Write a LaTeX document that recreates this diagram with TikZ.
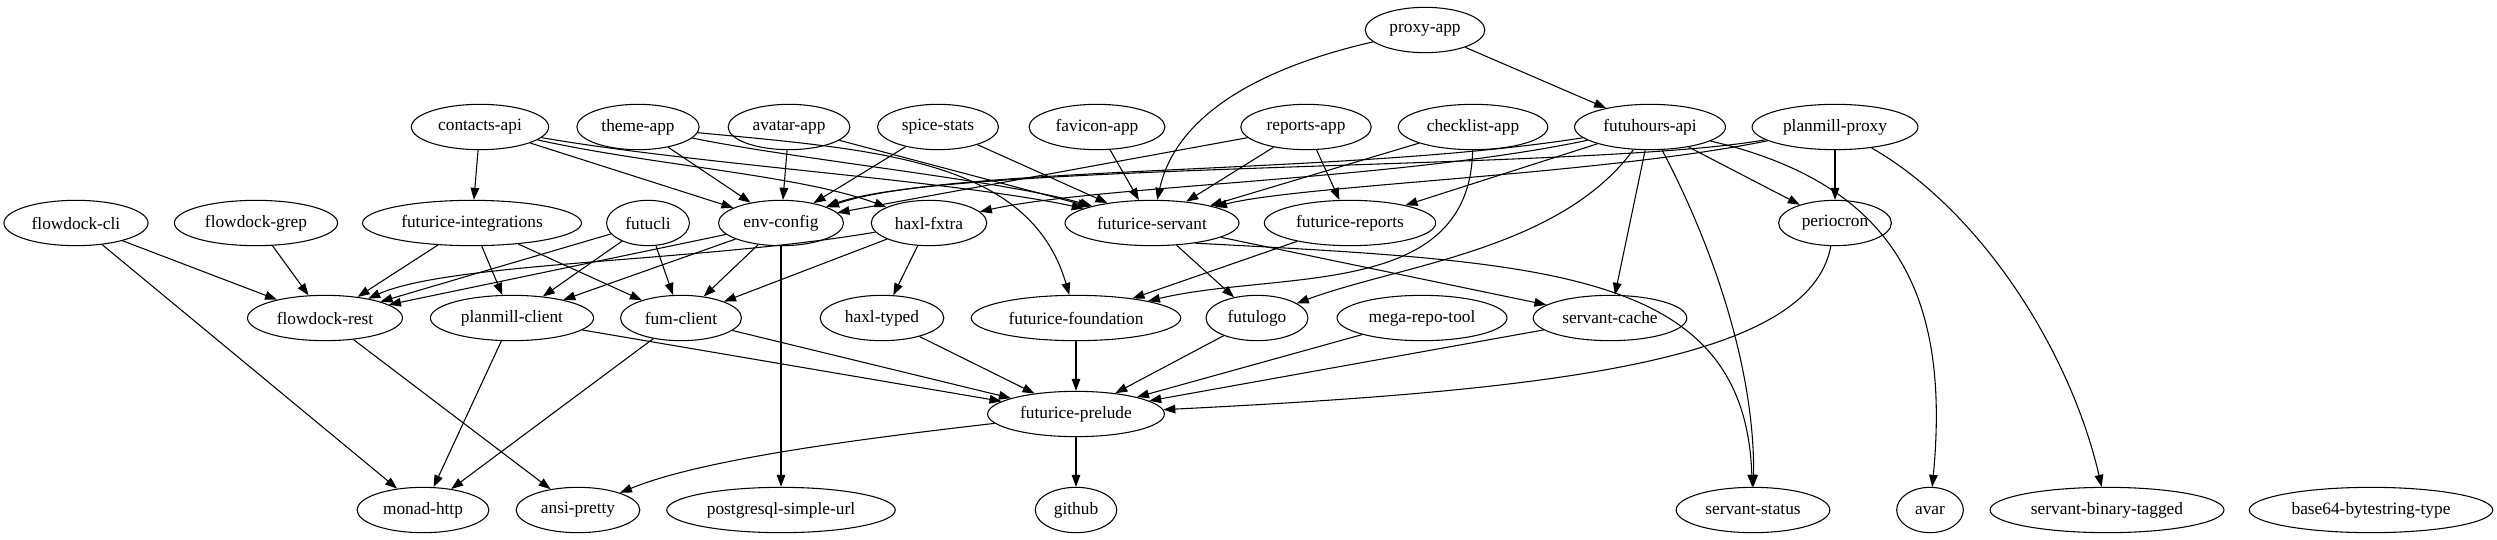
\documentclass[tikz,border=0pt]{standalone}
\usepackage{fontspec}
\setmainfont{Liberation Serif}
\usetikzlibrary{arrows.meta, shapes.geometric}

\begin{document}
\begin{tikzpicture}[
    x=0.75pt, y=-0.75pt,
    >={Triangle[length=9pt, width=6.5pt]},
    font=\fontsize{13}{15}\selectfont,
    pkg/.style={
        draw, ellipse, line width=0.8pt, inner xsep=5pt, inner ysep=0pt,
        minimum height=34pt, minimum width=50pt
    },
    arrow/.style={draw, line width=0.8pt, ->}
]
\useasboundingbox (0,0) rectangle (2497,539);

% ==========================================
% APPLICATIONS
% ==========================================

\node[pkg] (ProxyApp) at (1425, 30) {proxy-app};

\node[pkg] (ContactsApi) at (480, 127) {contacts-api};
\node[pkg] (ThemeApp) at (638, 127) {theme-app};
\node[pkg] (AvatarApp) at (789, 127) {avatar-app};
\node[pkg] (SpiceStats) at (938, 127) {spice-stats};
\node[pkg] (FaviconApp) at (1097, 127) {favicon-app};
\node[pkg] (ReportsApp) at (1306, 127) {reports-app};
\node[pkg] (ChecklistApp) at (1473, 127) {checklist-app};
\node[pkg] (FutuhoursApi) at (1650, 127) {futuhours-api};
\node[pkg] (PlanmillProxy) at (1835, 127) {planmill-proxy};

% ==========================================
% MIDDLE LIBRARIES
% ==========================================

\node[pkg] (FlowdockCli) at (76, 223) {flowdock-cli};
\node[pkg] (FlowdockGrep) at (256, 223) {flowdock-grep};
\node[pkg] (FuturiceIntegrations) at (472, 223) {futurice-integrations};
\node[pkg] (Futucli) at (648, 223) {futucli};
\node[pkg] (EnvConfig) at (781, 223) {env-config};
\node[pkg] (HaxlFxtra) at (929, 223) {haxl-fxtra};
\node[pkg] (FuturiceServant) at (1152, 223) {futurice-servant};
\node[pkg] (FuturiceReports) at (1350, 223) {futurice-reports};
\node[pkg] (Periocron) at (1835, 223) {periocron};

\node[pkg] (FlowdockRest) at (325, 318) {flowdock-rest};
\node[pkg] (PlanmillClient) at (512, 318) {planmill-client};
\node[pkg] (FumClient) at (681, 318) {fum-client};
\node[pkg] (HaxlTyped) at (882, 318) {haxl-typed};
\node[pkg] (FuturiceFoundation) at (1076, 318) {futurice-foundation};
\node[pkg] (Futulogo) at (1257, 318) {futulogo};
\node[pkg] (MegaRepoTool) at (1422, 318) {mega-repo-tool};
\node[pkg] (ServantCache) at (1610, 318) {servant-cache};

\node[pkg] (FuturicePrelude) at (1076, 414) {futurice-prelude};

% ==========================================
% LEAF PACKAGES
% ==========================================

\node[pkg] (MonadHttp) at (423, 510) {monad-http};
\node[pkg] (AnsiPretty) at (578, 510) {ansi-pretty};
\node[pkg] (PostgresqlSimpleUrl) at (781, 510) {postgresql-simple-url};
\node[pkg] (Github) at (1076, 510) {github};
\node[pkg] (ServantStatus) at (1753, 510) {servant-status};
\node[pkg] (Avar) at (1930, 510) {avar};
\node[pkg] (ServantBinaryTagged) at (2107, 510) {servant-binary-tagged};
\node[pkg] (Base64BytestringType) at (2371, 510) {base64-bytestring-type};

% ==========================================
% DEPENDENCIES
% ==========================================

\draw[arrow] (ProxyApp) -- (FutuhoursApi);
\draw[arrow] (ProxyApp) .. controls (1250, 70) and (1175, 120) .. (FuturiceServant);

\draw[arrow] (ContactsApi) -- (FuturiceIntegrations);
\draw[arrow] (ContactsApi) -- (EnvConfig);
\draw[arrow] (ContactsApi) .. controls (650, 165) and (800, 175) .. (HaxlFxtra);
\draw[arrow] (ContactsApi) .. controls (700, 165) and (950, 180) .. (FuturiceServant);

\draw[arrow] (ThemeApp) -- (EnvConfig);
\draw[arrow] (ThemeApp) .. controls (800, 160) and (1000, 180) .. (FuturiceServant);
\draw[arrow] (ThemeApp) .. controls (880, 150) and (1030, 160) .. (FuturiceFoundation);

\draw[arrow] (AvatarApp) -- (EnvConfig);
\draw[arrow] (AvatarApp) -- (FuturiceServant);
\draw[arrow] (SpiceStats) -- (EnvConfig);
\draw[arrow] (SpiceStats) -- (FuturiceServant);
\draw[arrow] (FaviconApp) -- (FuturiceServant);

\draw[arrow] (ReportsApp) -- (EnvConfig);
\draw[arrow] (ReportsApp) -- (FuturiceServant);
\draw[arrow] (ReportsApp) -- (FuturiceReports);

\draw[arrow] (ChecklistApp) -- (FuturiceServant);
\draw[arrow] (ChecklistApp) .. controls (1470, 300) and (1280, 270) .. (FuturiceFoundation);

\draw[arrow] (FutuhoursApi) .. controls (1350, 175) and (950, 165) .. (EnvConfig);
\draw[arrow] (FutuhoursApi) .. controls (1400, 180) and (1100, 185) .. (HaxlFxtra);
\draw[arrow] (FutuhoursApi) -- (FuturiceReports);
\draw[arrow] (FutuhoursApi) .. controls (1560, 250) and (1400, 265) .. (Futulogo);
\draw[arrow] (FutuhoursApi) -- (ServantCache);
\draw[arrow] (FutuhoursApi) -- (Periocron);
\draw[arrow] (FutuhoursApi) .. controls (1720, 260) and (1755, 380) .. (ServantStatus);
\draw[arrow] (FutuhoursApi) .. controls (1900, 185) and (1950, 300) .. (Avar);

\draw[arrow] (PlanmillProxy) .. controls (1600, 170) and (950, 162) .. (EnvConfig);
\draw[arrow] (PlanmillProxy) .. controls (1600, 175) and (1300, 185) .. (FuturiceServant);
\draw[arrow] (PlanmillProxy) -- (Periocron);
\draw[arrow] (PlanmillProxy) .. controls (1980, 210) and (2070, 350) .. (ServantBinaryTagged);

\draw[arrow] (FlowdockCli) -- (FlowdockRest);
\draw[arrow] (FlowdockCli) -- (MonadHttp);
\draw[arrow] (FlowdockGrep) -- (FlowdockRest);

\draw[arrow] (FuturiceIntegrations) -- (FlowdockRest);
\draw[arrow] (FuturiceIntegrations) -- (PlanmillClient);
\draw[arrow] (FuturiceIntegrations) -- (FumClient);

\draw[arrow] (Futucli) -- (FlowdockRest);
\draw[arrow] (Futucli) -- (PlanmillClient);
\draw[arrow] (Futucli) -- (FumClient);

\draw[arrow] (EnvConfig) -- (FlowdockRest);
\draw[arrow] (EnvConfig) -- (PlanmillClient);
\draw[arrow] (EnvConfig) -- (FumClient);
\draw[arrow] (EnvConfig) -- (PostgresqlSimpleUrl);

\draw[arrow] (HaxlFxtra) .. controls (700, 262) and (450, 262) .. (FlowdockRest);
\draw[arrow] (HaxlFxtra) -- (FumClient);
\draw[arrow] (HaxlFxtra) -- (HaxlTyped);

\draw[arrow] (FuturiceServant) -- (Futulogo);
\draw[arrow] (FuturiceServant) -- (ServantCache);
\draw[arrow] (FuturiceServant.-25) .. controls (1550, 262) and (1745, 270) .. (ServantStatus);
\draw[arrow] (FuturiceReports) -- (FuturiceFoundation);
\draw[arrow] (Periocron) .. controls (1810, 360) and (1560, 390) .. (FuturicePrelude);

% into the prelude
\draw[arrow] (PlanmillClient) -- (FuturicePrelude);
\draw[arrow] (FumClient) -- (FuturicePrelude);
\draw[arrow] (HaxlTyped) -- (FuturicePrelude);
\draw[arrow] (FuturiceFoundation) -- (FuturicePrelude);
\draw[arrow] (Futulogo) -- (FuturicePrelude);
\draw[arrow] (MegaRepoTool) -- (FuturicePrelude);
\draw[arrow] (ServantCache) -- (FuturicePrelude);

\draw[arrow] (FlowdockRest) -- (AnsiPretty);
\draw[arrow] (PlanmillClient) -- (MonadHttp);
\draw[arrow] (FumClient) -- (MonadHttp);
\draw[arrow] (FuturicePrelude) .. controls (850, 440) and (700, 460) .. (AnsiPretty);
\draw[arrow] (FuturicePrelude) -- (Github);

\end{tikzpicture}
\end{document}
